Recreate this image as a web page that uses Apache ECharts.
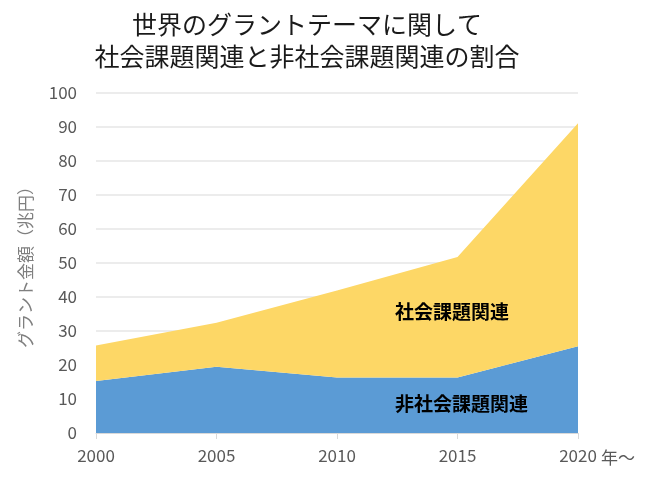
<!DOCTYPE html>
<html><head><meta charset="utf-8">
<script src="https://cdn.jsdelivr.net/npm/echarts@6/dist/echarts.min.js"></script>
<style>html,body{margin:0;padding:0;background:#fff}#c{width:650px;height:481px}</style>
</head><body><div id="c"></div>
<script>
const years = ['2000','2005','2010','2015','2020'];
const nonSocial = [15.3, 19.5, 16.3, 16.3, 25.5];
const social = [10.4, 12.9, 25.6, 35.5, 65.6];
const yTicks = [0,10,20,30,40,50,60,70,80,90,100];
const F = '"Noto Sans CJK JP", "Noto Sans", sans-serif';
const chart = echarts.init(document.getElementById('c'));
chart.setOption({
  animation:false,
  title:{text:'世界のグラントテーマに関して\n社会課題関連と非社会課題関連の割合',left:302,top:3,textAlign:'center',
    textStyle:{fontFamily:F,fontSize:25,fontWeight:'normal',color:'#1a1a1a',lineHeight:32}},
  grid:{left:96,right:72,top:93,bottom:48},
  xAxis:{type:'category',data:years,boundaryGap:false,
    axisLine:{lineStyle:{color:'#d9d9d9'}},
    axisTick:{show:true,length:6,lineStyle:{color:'#d9d9d9'}},
    axisLabel:{color:'#595959',fontSize:17,fontFamily:F,margin:14}},
  yAxis:{type:'value',min:0,max:100,interval:10,
    name:'グラント金額（兆円）',nameLocation:'middle',nameGap:62,nameRotate:90,
    nameTextStyle:{color:'#7f7f7f',fontSize:17,fontFamily:F},
    axisLine:{show:false},axisTick:{show:false},
    axisLabel:{color:'#595959',fontSize:17,fontFamily:F,margin:19,formatter:v=>yTicks.includes(v)?String(v):''},
    splitLine:{lineStyle:{color:'#e6e6e6',width:1.5}}},
  series:[
    {name:'非社会課題関連',type:'line',stack:'t',data:nonSocial,symbol:'none',lineStyle:{width:0},
      areaStyle:{color:'#5B9BD5',opacity:1}},
    {name:'社会課題関連',type:'line',stack:'t',data:social,symbol:'none',lineStyle:{width:0},
      areaStyle:{color:'#FDD766',opacity:1}}
  ],
  graphic:[
    {type:'text',z:100,left:395,top:302,style:{text:'社会課題関連',fontSize:19,fontWeight:'bold',fontFamily:F,fill:'#000'}},
    {type:'text',z:100,left:395,top:394,style:{text:'非社会課題関連',fontSize:19,fontWeight:'bold',fontFamily:F,fill:'#000'}},
    {type:'text',z:100,left:601,top:449,style:{text:'年〜',fontSize:17,fontFamily:F,fill:'#595959'}}
  ]
});
</script></body></html>
